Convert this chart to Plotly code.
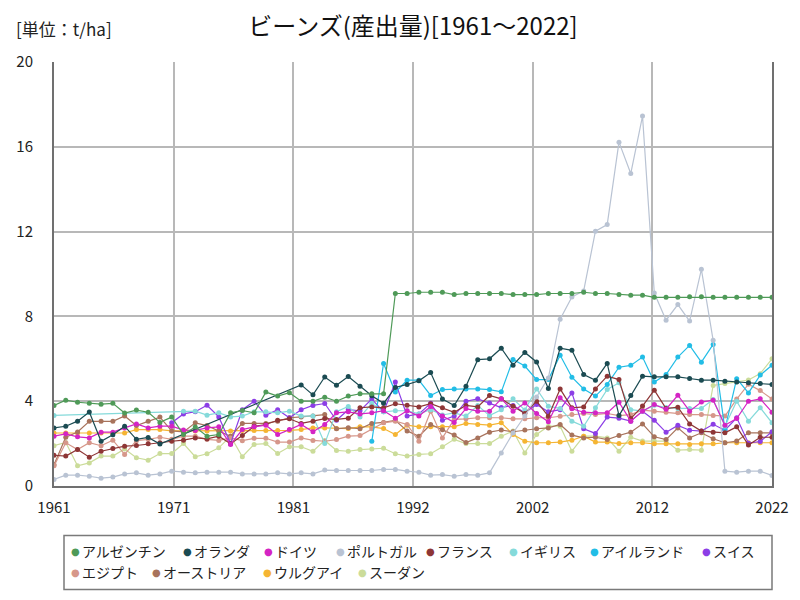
import plotly.graph_objects as go

years = list(range(1961, 2023))
N = None

argentina = [3.8,4.05,3.95,3.9,3.86,3.9,3.44,3.58,3.48,3.0,
             3.25,2.43,2.78,2.35,2.43,3.45,3.56,3.45,4.43,4.24,
             4.4,4.0,4.0,4.19,4.0,4.24,4.35,4.35,4.35,9.08,
             9.08,9.14,9.14,9.14,9.03,9.08,9.08,9.08,9.08,9.03,
             9.03,9.03,9.08,9.08,9.08,9.14,9.08,9.08,9.03,9.0,
             9.0,8.9,8.9,8.9,8.93,8.93,8.9,8.9,8.9,8.9,
             8.9,8.9]
netherlands = [2.74,2.82,3.06,3.49,2.11,2.42,2.82,2.2,2.29,1.98,
               N,N,N,N,N,N,N,N,N,N,
               N,4.77,4.3,5.14,4.75,5.16,4.71,4.26,3.9,4.65,
               4.79,4.96,5.35,4.1,3.8,4.71,5.96,6.0,6.5,5.7,
               6.3,5.85,4.6,6.5,6.4,5.26,4.99,5.78,3.32,4.27,
               5.18,5.15,5.15,5.15,5.07,4.99,4.99,4.94,4.9,4.87,
               4.83,4.79]
germany = [2.35,2.46,2.32,2.27,2.54,2.54,2.74,2.93,2.74,2.82,
           2.82,2.64,2.62,2.74,2.79,1.96,2.66,2.79,2.87,2.43,
           2.66,2.9,2.56,2.9,3.45,3.5,3.4,3.45,3.55,3.2,
           3.55,3.3,3.75,3.3,3.0,3.65,3.53,3.53,4.11,3.53,
           3.92,3.42,3.03,4.16,3.64,3.48,3.45,3.45,3.95,3.06,
           3.53,3.84,3.62,4.28,3.53,3.96,4.05,2.87,3.18,4.0,
           4.11,3.48]
portugal = [0.31,0.51,0.51,0.46,0.37,0.42,0.57,0.62,0.51,0.57,
            0.7,0.65,0.62,0.65,0.65,0.65,0.57,0.57,0.57,0.62,
            0.57,0.62,0.57,0.75,0.73,0.73,0.73,0.73,0.78,0.78,
            0.7,0.65,0.51,0.54,0.46,0.54,0.51,0.62,1.56,2.5,
            3.3,4.2,5.1,7.87,8.92,9.2,12.02,12.33,16.22,14.74,
            17.45,9.1,7.82,8.56,7.78,10.22,6.87,0.7,0.65,0.7,
            0.7,0.5]
france = [1.45,1.41,1.72,1.36,1.64,1.77,1.88,1.91,1.99,2.04,
          2.11,2.16,2.27,2.22,2.35,1.99,2.38,2.82,2.9,3.1,
          3.17,2.95,3.06,3.18,3.14,3.2,3.69,3.73,3.69,3.88,
          3.81,3.73,3.88,3.69,3.48,3.8,3.73,4.27,4.11,3.76,
          3.42,4.0,3.29,4.58,3.69,3.73,4.58,5.18,5.02,3.18,
          3.77,4.52,3.65,3.72,2.93,2.59,2.54,2.51,2.79,1.93,
          2.3,2.3]
uk = [3.33,N,N,N,N,N,N,N,N,N,
      N,3.53,3.53,3.34,3.45,3.26,3.3,3.5,3.5,3.45,
      3.53,3.3,3.3,2.0,3.5,3.75,3.25,3.9,3.5,3.55,
      3.55,3.4,3.6,3.35,3.45,3.3,3.8,3.32,3.6,4.11,
      3.58,4.58,3.76,3.66,3.06,2.82,3.69,4.55,4.87,3.6,
      3.53,3.81,3.7,3.66,3.66,3.66,4.08,2.82,4.0,3.06,
      3.69,2.98]
ireland = [N,N,N,N,N,N,N,N,N,N,
           N,N,N,N,N,N,N,N,N,N,
           N,N,N,N,N,N,N,2.11,5.78,4.43,
           4.99,4.99,4.27,4.55,4.58,4.58,4.58,4.55,4.44,5.97,
           5.66,5.02,5.02,6.17,5.13,4.58,4.24,4.79,5.6,5.69,
           6.08,4.9,5.26,6.08,6.63,5.84,6.68,2.67,5.06,4.39,
           5.23,5.7]
switzerland = [N,N,N,N,N,N,N,N,N,N,
               2.98,3.4,3.5,3.81,3.26,2.0,3.6,4.0,3.34,3.6,
               3.22,3.6,3.8,3.89,3.1,3.6,3.55,4.1,3.5,4.9,
               3.3,3.4,3.9,3.1,3.3,4.0,4.11,3.92,3.7,3.8,
               3.45,3.84,3.5,3.6,4.39,2.7,2.48,3.25,3.2,3.06,
               3.53,3.1,2.53,2.86,2.63,2.59,2.91,2.63,3.22,2.02,
               2.1,2.56]
egypt = [0.95,2.04,1.72,2.04,1.9,2.16,1.49,2.14,2.2,2.3,
         2.2,2.35,2.35,2.2,2.15,2.27,2.14,2.25,2.25,2.07,
         2.07,2.27,2.15,2.11,2.19,2.35,2.38,2.7,2.98,3.06,
         2.9,2.11,3.53,2.27,3.14,3.17,3.22,3.22,3.22,3.17,
         3.17,3.22,3.22,3.29,3.37,3.42,3.37,3.42,3.32,3.37,
         3.58,3.53,3.48,3.45,3.37,3.37,3.32,3.3,4.1,4.8,
         4.5,4.1]
austria = [1.0,2.3,2.55,3.05,3.05,3.05,3.3,2.85,3.05,3.25,
           2.6,2.55,2.98,2.85,2.59,2.35,2.95,2.95,2.95,3.06,
           3.22,3.26,3.3,3.37,2.7,2.75,2.7,2.95,3.0,3.1,
           2.6,2.35,2.9,2.65,2.4,2.05,2.27,2.54,2.64,2.56,
           2.64,2.7,2.74,2.9,2.4,2.27,2.3,2.19,2.38,2.54,
           2.93,2.32,2.19,2.74,2.27,2.51,2.23,2.04,2.12,2.51,
           2.51,2.51]
uruguay = [2.5,2.5,2.5,2.5,2.5,2.5,2.5,2.66,2.66,2.66,
           2.6,2.6,2.59,2.6,2.6,2.6,2.62,2.62,2.62,2.62,
           2.62,2.66,2.74,2.74,2.71,2.71,2.79,2.79,2.71,2.43,
           2.87,2.79,2.8,2.8,2.8,2.95,2.9,2.87,2.98,2.43,
           2.11,2.04,2.04,2.07,2.16,2.35,2.07,2.07,2.0,2.04,
           2.04,1.99,1.99,1.99,1.96,1.99,1.99,2.04,2.04,2.04,
           2.04,2.04]
sudan = [1.9,2.05,0.95,1.09,1.41,1.41,1.75,1.33,1.22,1.53,
         1.53,2.0,1.38,1.52,1.8,2.35,1.38,1.96,2.0,1.53,
         1.85,1.85,1.64,2.15,1.68,1.64,1.72,1.75,1.78,1.52,
         1.41,1.49,1.52,1.85,2.2,2.0,2.0,2.0,2.35,2.59,
         1.56,2.43,2.82,2.82,1.64,2.35,2.35,2.27,1.64,2.3,
         2.12,2.12,2.12,1.69,1.72,1.69,4.74,4.83,4.9,5.0,
         5.3,6.0]

names = ["アルゼンチン", "オランダ", "ドイツ", "ポルトガル", "フランス", "イギリス",
         "アイルランド", "スイス", "エジプト", "オーストリア", "ウルグアイ", "スーダン"]
series = [argentina, netherlands, germany, portugal, france, uk,
          ireland, switzerland, egypt, austria, uruguay, sudan]
colors = ["#4f9a58", "#1b4b52", "#d424c4", "#b9c3d3", "#8e3636", "#85dada",
          "#22bde6", "#8c3ee6", "#d6978a", "#a8735c", "#f5b533", "#cbdc9a"]

xtick_text = ["1961", "1971", "1981", "1992", "2002", "2012", "2022"]
x0, x1 = years[0], years[-1]
xtick_vals = [x0 + (x1 - x0) * k / 6 for k in range(7)]

FONT = "Noto Sans CJK JP"
OFF = 8                      # page body margin in the browser
W, H = 800 - OFF, 600 - OFF
PL, PR, PT, PB = 54, 772, 62, 486.5   # plot area in screen pixels
ML, MR, MT, MB = PL - OFF, W - (PR - OFF), PT - OFF, H - (PB - OFF)
PW, PH = W - ML - MR, H - MT - MB

def px(x):  # screen pixel x -> paper x
    return (x - OFF - ML) / PW

def py(y):  # screen pixel y -> paper y
    return (H - MB - (y - OFF)) / PH

fig = go.Figure()
for name, vals, col in reversed(list(zip(names, series, colors))):
    fig.add_trace(go.Scatter(
        x=years, y=vals, mode="lines+markers", name=name,
        showlegend=False, connectgaps=True,
        line=dict(color=col, width=1.2),
        marker=dict(color=col, size=5),
    ))

fig.update_layout(
    width=W, height=H,
    margin=dict(l=ML, r=MR, t=MT, b=MB, autoexpand=False),
    plot_bgcolor="white", paper_bgcolor="white",
    font=dict(family=FONT, color="#222", size=13),
    title=dict(text="ビーンズ(産出量)[1961～2022]", x=px(413), xref="paper", xanchor="center",
               y=1 - (27 - OFF) / H, yref="container", yanchor="middle",
               font=dict(size=24, family=FONT, color="#111")),
    showlegend=False,
    xaxis=dict(range=[x0, x1], tickvals=xtick_vals, ticktext=xtick_text, automargin=False,
               showgrid=True, gridcolor="#b8b8b8", gridwidth=1.6,
               showline=True, linecolor="#707070", linewidth=2, zeroline=False,
               tickfont=dict(size=15, family=FONT, color="#222"), ticks="",
               ticklabelstandoff=7),
    yaxis=dict(range=[0, 20], dtick=4, tick0=0, automargin=False,
               showgrid=True, gridcolor="#b8b8b8", gridwidth=1.6,
               showline=True, linecolor="#707070", linewidth=2, mirror=True, zeroline=False,
               tickfont=dict(size=15, family=FONT, color="#222"), ticks="",
               ticklabelstandoff=16),
)
fig.add_annotation(text="[単位：t/ha]", xref="paper", yref="paper",
                   x=px(14), y=py(28), xanchor="left", yanchor="middle",
                   showarrow=False, font=dict(size=17, family=FONT, color="#222"))

# legend (box + entries)
fig.add_shape(type="rect", xref="paper", yref="paper",
              x0=px(64), x1=px(772), y0=py(536), y1=py(590),
              line=dict(color="#7a7a7a", width=1.5), fillcolor="white")
rows = [(names[:8], colors[:8], 552, [75, 187, 268, 340, 430, 513, 594, 706]),
        (names[8:], colors[8:], 573, [75, 156, 267, 362])]
for nms, cols, yy, xs in rows:
    for nm, col, xx in zip(nms, cols, xs):
        fig.add_annotation(text="●", xref="paper", yref="paper", x=px(xx), y=py(yy),
                           xanchor="center", yanchor="middle", showarrow=False,
                           font=dict(size=10, color=col, family="DejaVu Sans"))
        fig.add_annotation(text=nm, xref="paper", yref="paper", x=px(xx + 5), y=py(yy),
                           xanchor="left", yanchor="middle", showarrow=False,
                           font=dict(size=14, color="#222", family=FONT))

fig.write_html("out.html")
